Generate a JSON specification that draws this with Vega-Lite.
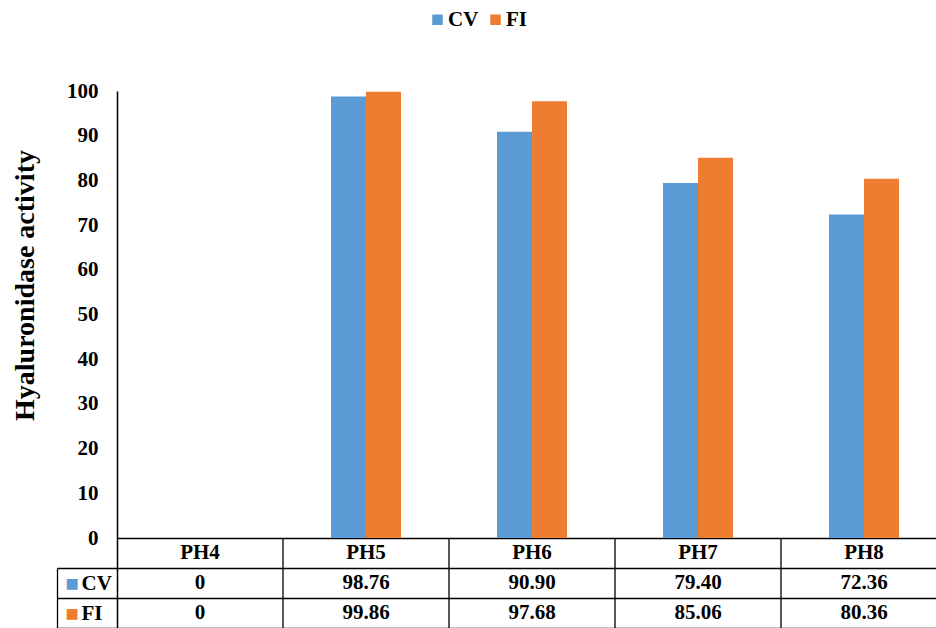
{
  "$schema": "https://vega.github.io/schema/vega-lite/v6.json",
  "autosize": {"type": "none"},
  "padding": {"left": 117, "top": 91, "right": 0, "bottom": 0},
  "width": 819,
  "height": 537,
  "background": "white",
  "config": {"view": {"stroke": null}, "font": "Liberation Serif"},
  "data": {"values": [
    {"cat": "PH4", "series": "CV", "value": 0},
    {"cat": "PH4", "series": "FI", "value": 0},
    {"cat": "PH5", "series": "CV", "value": 98.76},
    {"cat": "PH5", "series": "FI", "value": 99.86},
    {"cat": "PH6", "series": "CV", "value": 90.90},
    {"cat": "PH6", "series": "FI", "value": 97.68},
    {"cat": "PH7", "series": "CV", "value": 79.40},
    {"cat": "PH7", "series": "FI", "value": 85.06},
    {"cat": "PH8", "series": "CV", "value": 72.36},
    {"cat": "PH8", "series": "FI", "value": 80.36}
  ]},
  "layer": [
    {
      "mark": {"type": "bar"},
      "encoding": {
        "x": {"field": "cat", "type": "nominal", "axis": null,
              "scale": {"domain": ["PH4", "PH5", "PH6", "PH7", "PH8"], "range": [0, 830], "paddingInner": 0, "paddingOuter": 0}},
        "xOffset": {"field": "series", "type": "nominal",
                    "scale": {"domain": ["CV", "FI"], "range": [48, 118], "paddingInner": 0, "paddingOuter": 0}},
        "y": {"field": "value", "type": "quantitative",
              "scale": {"domain": [-20.13, 100], "nice": false},
              "axis": {"orient": "left", "values": [0, 10, 20, 30, 40, 50, 60, 70, 80, 90, 100],
                       "domain": true, "domainColor": "black", "domainWidth": 1.5,
                       "ticks": false, "tickSize": 0, "grid": false,
                       "labelPadding": 19, "labelFont": "Liberation Serif", "labelFontWeight": "bold",
                       "labelFontSize": 21, "labelColor": "black",
                       "title": "Hyaluronidase activity", "titleFont": "Liberation Serif",
                       "titleFontWeight": "bold", "titleFontSize": 28, "titleColor": "black",
                       "titlePadding": 27, "titleY": 194}},
        "color": {"field": "series", "type": "nominal",
                  "scale": {"domain": ["CV", "FI"], "range": ["#5B9BD5", "#ED7D31"]},
                  "legend": {"orient": "none", "legendX": 310, "legendY": -82, "direction": "horizontal",
                             "title": null, "symbolType": "square", "symbolSize": 110, "symbolStrokeWidth": 0,
                             "symbolOpacity": 1,
                             "labelFont": "Liberation Serif", "labelFontWeight": "bold", "labelFontSize": 21,
                             "labelColor": "black", "columnPadding": 6, "labelOffset": 0, "padding": 0}}
      }
    },
    {
      "transform": [{"filter": "datum.series === 'CV' && datum.cat !== 'PH4'"}],
      "mark": {"type": "rule", "color": "black", "strokeWidth": 1.3},
      "encoding": {
        "x": {"field": "cat", "type": "nominal", "bandPosition": 0},
        "y": {"datum": 0, "type": "quantitative", "scale": {"domain": [-20.13, 100], "nice": false}, "axis": null},
        "y2": {"datum": -20.13}
      }
    },
    {
      "transform": [{"filter": "datum.series === 'CV'"}],
      "mark": {"type": "text", "font": "Liberation Serif", "fontWeight": "bold", "fontSize": 21, "color": "black", "baseline": "middle", "align": "center"},
      "encoding": {
        "x": {"field": "cat", "type": "nominal"},
        "y": {"datum": "hdr", "type": "nominal",
              "scale": {"domain": ["hdr", "CV", "FI"], "range": [447, 537], "paddingInner": 0, "paddingOuter": 0},
              "axis": {"orient": "left", "domain": false, "ticks": true, "tickBand": "extent", "tickSize": 60,
                       "tickColor": "black", "tickWidth": 1.3,
                       "tickOpacity": {"condition": {"test": "datum.index < 0", "value": 0}, "value": 1},
                       "grid": true, "gridColor": "black", "gridWidth": 1.3, "gridOpacity": 1,
                       "labelExpr": "datum.value === 'hdr' ? '' : datum.label",
                       "labelAlign": "left", "labelPadding": -24, "labelFont": "Liberation Serif", "labelFontWeight": "bold",
                       "labelFontSize": 21, "labelColor": "black", "title": null}},
        "text": {"field": "cat"}
      }
    },
    {
      "transform": [{"calculate": "datum.value === 0 ? '0' : format(datum.value, '.2f')", "as": "label"}],
      "mark": {"type": "text", "font": "Liberation Serif", "fontWeight": "bold", "fontSize": 21, "color": "black", "baseline": "middle", "align": "center"},
      "encoding": {
        "x": {"field": "cat", "type": "nominal"},
        "y": {"field": "series", "type": "nominal",
              "scale": {"domain": ["CV", "FI"], "range": [477, 537], "paddingInner": 0, "paddingOuter": 0},
              "axis": {"orient": "left", "offset": 60, "domain": true, "domainColor": "black", "domainWidth": 1.3,
                       "ticks": false, "tickSize": 0, "grid": false,
                       "labelExpr": "'■'", "labelAlign": "left", "labelPadding": -8,
                       "labelFont": "DejaVu Sans", "labelFontSize": 14,
                       "labelColor": {"condition": {"test": "datum.value === 'CV'", "value": "#5B9BD5"}, "value": "#ED7D31"},
                       "title": null}},
        "text": {"field": "label"}
      }
    }
  ],
  "resolve": {"scale": {"y": "independent"}}
}
